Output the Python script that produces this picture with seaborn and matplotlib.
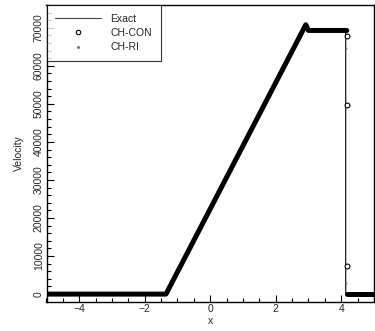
import matplotlib
matplotlib.use("Agg")
import matplotlib.pyplot as plt
from matplotlib.lines import Line2D
import seaborn as sns
import pandas as pd
import numpy as np

# Exact solution breakpoints
exact_x = [-5.0, -1.35, 2.90, 2.95, 4.14, 4.14, 5.0]
exact_y = [0, 0, 70300, 69300, 69300, 0, 0]

# Numerical solution (dense points forming a band) - breakpoints per segment
band_seg = [0, 0, 0, 0, 0, 1, 1]
band_x = [-5.0, -1.35, 2.92, 3.00, 4.17, 4.17, 5.0]
band_y = [0, 0, 70800, 69300, 69300, 0, 0]

# Isolated points across the discontinuity
con_x = [4.17, 4.17, 4.17]
con_y = [67900, 49700, 7450]
ri_x = [4.16, 4.16]
ri_y = [64800, 2900]

xticks = [-4, -2, 0, 2, 4]
yticks = [0, 10000, 20000, 30000, 40000, 50000, 60000, 70000]

sns.set_style("ticks")
plt.rcParams['font.family'] = ['Liberation Sans', 'DejaVu Sans']

fig = plt.figure(figsize=(3.75, 3.31), dpi=100)
ax = fig.add_axes([0.124, 0.0885, 0.873, 0.8965])

band_df = pd.DataFrame({"x": band_x, "y": band_y, "seg": band_seg})
sns.lineplot(data=band_df, x="x", y="y", units="seg", estimator=None, sort=False,
             color="black", lw=3.6, solid_capstyle="round", solid_joinstyle="round",
             ax=ax, legend=False)

exact_df = pd.DataFrame({"x": exact_x, "y": exact_y})
sns.lineplot(data=exact_df, x="x", y="y", estimator=None, sort=False,
             color="black", lw=0.8, ax=ax, legend=False)

sns.scatterplot(x=con_x, y=con_y, marker="o", s=12, facecolor="white",
                edgecolor="black", linewidth=0.8, ax=ax, legend=False, zorder=5)
sns.scatterplot(x=ri_x, y=ri_y, marker="o", s=2, color="#777777",
                linewidth=0, ax=ax, legend=False, zorder=5)

ax.set_xlim(-5, 5)
ax.set_ylim(-2000, 76000)
ax.set_xticks(xticks)
ax.set_xticks(np.arange(-5, 5.01, 0.5), minor=True)
ax.set_yticks(yticks)
ax.set_yticks(np.arange(0, 76001, 2000), minor=True)
ax.tick_params(which="both", direction="in", top=False, right=False,
               labelsize=7.5, color="black", width=0.8, pad=2)
ax.tick_params(which="major", length=5)
ax.tick_params(which="minor", length=3)
for lab in ax.get_yticklabels():
    lab.set_rotation(90)
    lab.set_va("center")
for sp in ax.spines.values():
    sp.set_visible(True)
    sp.set_color("black")
    sp.set_linewidth(1.0)

ax.set_xlabel("x", fontsize=7.5, labelpad=1)
ax.set_ylabel("Velocity", fontsize=7.5, labelpad=7)

handles = [
    Line2D([0], [0], color="#444444", lw=0.8),
    Line2D([0], [0], marker="o", ls="none", markersize=3.2, markerfacecolor="white",
           markeredgecolor="black", markeredgewidth=0.8),
    Line2D([0], [0], marker="o", ls="none", markersize=1.2, color="#777777"),
]
leg = ax.legend(handles, ["Exact", "CH-CON", "CH-RI"], loc="upper left",
                bbox_to_anchor=(0, 1), borderaxespad=0, fontsize=7.5, frameon=True,
                fancybox=False, handlelength=4.4, labelspacing=0.4,
                borderpad=0.85, handletextpad=0.9)
leg.get_frame().set_edgecolor("black")
leg.get_frame().set_linewidth(0.8)

fig.savefig("out.png", dpi=100)
